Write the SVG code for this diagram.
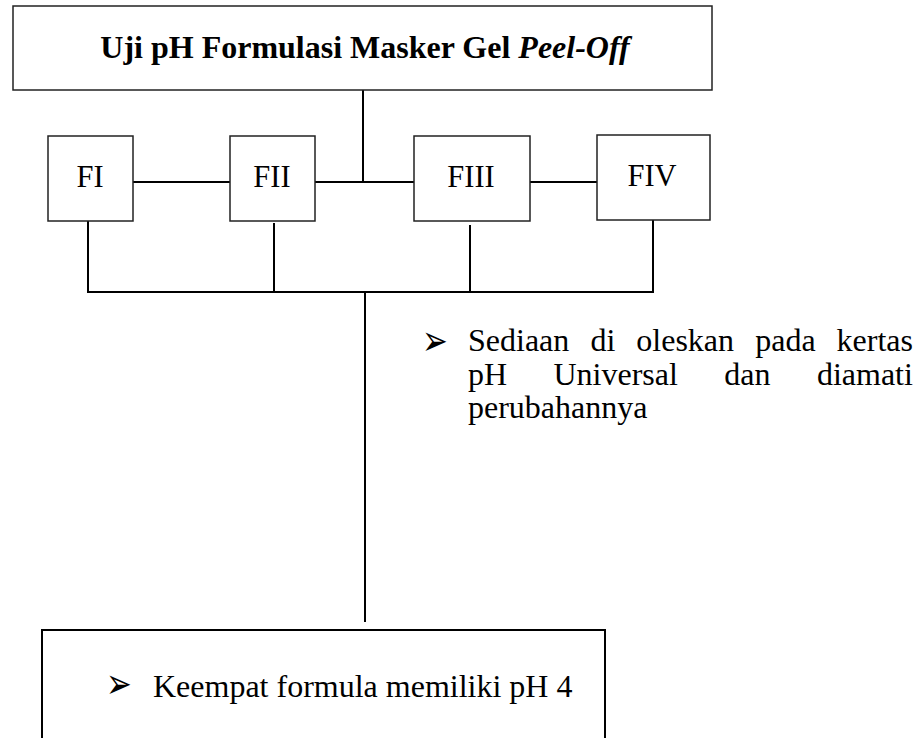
<svg xmlns="http://www.w3.org/2000/svg" width="916" height="738" viewBox="0 0 916 738">
  <style>
    .box { fill: #ffffff; stroke: #222222; stroke-width: 1.5; }
    .box-strong { fill: #ffffff; stroke: #000000; stroke-width: 2; }
    .wire { fill: none; stroke: #000000; stroke-width: 2; }
    .title { font-family: "Liberation Serif", "Times New Roman", serif; font-size: 32px; font-weight: bold; fill: #000000; }
    .label { font-family: "Liberation Serif", "Times New Roman", serif; font-size: 30.5px; fill: #000000; }
    .body { font-family: "Liberation Serif", "Times New Roman", serif; font-size: 32px; fill: #000000; }
    .bullet { font-family: "DejaVu Sans", sans-serif; font-size: 28px; fill: #000000; }
  </style>

  <rect width="916" height="738" fill="#ffffff"/>

  <!-- connectors -->
  <g id="connectors" class="wire">
    <line x1="363" y1="90" x2="363" y2="182"/>
    <line x1="133" y1="182" x2="230" y2="182"/>
    <line x1="315" y1="182" x2="414" y2="182"/>
    <line x1="530" y1="182" x2="597" y2="182"/>
    <line x1="88" y1="221" x2="88" y2="292"/>
    <line x1="274" y1="223" x2="274" y2="292"/>
    <line x1="470" y1="225" x2="470" y2="292"/>
    <line x1="653" y1="220" x2="653" y2="292"/>
    <line x1="87" y1="292" x2="654" y2="292"/>
    <line x1="365" y1="292" x2="365" y2="622"/>
  </g>

  <!-- heading -->
  <g id="node-title">
    <rect class="box" x="13" y="6" width="699" height="84"/>
    <text class="title" x="365" y="58" text-anchor="middle">Uji pH Formulasi Masker Gel <tspan font-style="italic">Peel-Off</tspan></text>
  </g>

  <!-- formulas -->
  <g id="node-fi">
    <rect class="box" x="48" y="136" width="85" height="85"/>
    <text class="label" x="90" y="187" text-anchor="middle">FI</text>
  </g>
  <g id="node-fii">
    <rect class="box" x="230" y="136" width="85" height="85"/>
    <text class="label" x="272" y="187" text-anchor="middle">FII</text>
  </g>
  <g id="node-fiii">
    <rect class="box" x="414" y="136" width="116" height="85"/>
    <text class="label" x="471" y="187" text-anchor="middle">FIII</text>
  </g>
  <g id="node-fiv">
    <rect class="box" x="597" y="135" width="113" height="85"/>
    <text class="label" x="652" y="186" text-anchor="middle">FIV</text>
  </g>

  <!-- procedure note -->
  <g id="node-procedure">
    <text class="bullet" transform="translate(422,347) scale(1.1,1.5)" y="5">➢</text>
    <text class="body" y="351">
      <tspan x="468">Sediaan</tspan><tspan x="590.4">di</tspan><tspan x="636.3">oleskan</tspan><tspan x="755.2">pada</tspan><tspan x="836.6">kertas</tspan>
    </text>
    <text class="body" y="385">
      <tspan x="468">pH</tspan><tspan x="553.5">Universal</tspan><tspan x="724.3">dan</tspan><tspan x="816.9">diamati</tspan>
    </text>
    <text class="body" x="468" y="418">perubahannya</text>
  </g>

  <!-- result -->
  <g id="node-result">
    <path class="box-strong" d="M42,745 L42,630 L605,630 L605,745"/>
    <text class="bullet" transform="translate(106,690) scale(1.1,1.5)" y="5">➢</text>
    <text class="body" x="153" y="697">Keempat formula memiliki pH 4</text>
  </g>
</svg>
